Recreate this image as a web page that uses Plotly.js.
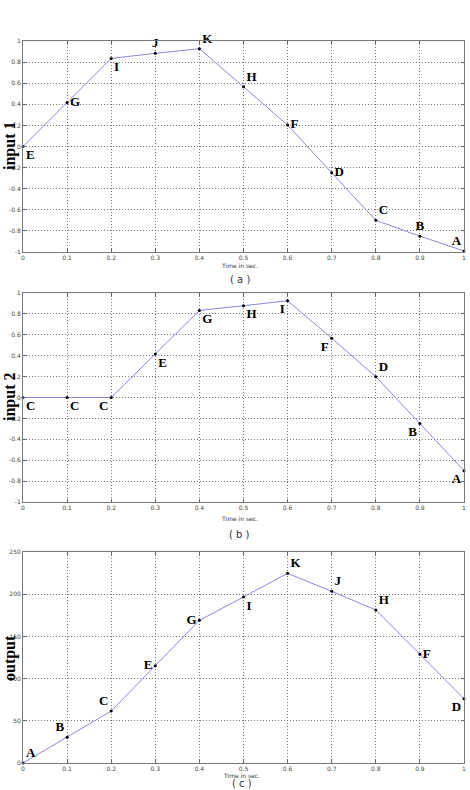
<!DOCTYPE html>
<html>
<head>
<meta charset="utf-8">
<script src="https://cdn.plot.ly/plotly-3.0.1.min.js"></script>
<style>html,body{margin:0;padding:0;background:#fff;}#chart{width:470px;height:790px;}</style>
</head>
<body>
<div id="chart"></div>
<script>
var time = [0, 0.1, 0.2, 0.3, 0.4, 0.5, 0.6, 0.7, 0.8, 0.9, 1.0];

var input1 = [0, 0.418, 0.835, 0.883, 0.927, 0.566, 0.203, -0.25, -0.70, -0.85, -0.99];
var input1Labels = ["E", "G", "I", "J", "K", "H", "F", "D", "C", "B", "A"];

var input2 = [0, 0, 0, 0.417, 0.833, 0.878, 0.926, 0.567, 0.199, -0.25, -0.70];
var input2Labels = ["C", "C", "C", "E", "G", "H", "I", "F", "D", "B", "A"];

var output = [0, 30.4, 61.6, 115.3, 169, 196.7, 224.7, 203.4, 181.3, 128.8, 76.2];
var outputLabels = ["A", "B", "C", "E", "G", "I", "K", "J", "H", "F", "D"];

var xTickVals = [0, 0.1, 0.2, 0.3, 0.4, 0.5, 0.6, 0.7, 0.8, 0.9, 1];
var xTickText = ["0", "0.1", "0.2", "0.3", "0.4", "0.5", "0.6", "0.7", "0.8", "0.9", "1"];
var inTickVals = [-1, -0.8, -0.6, -0.4, -0.2, 0, 0.2, 0.4, 0.6, 0.8, 1];
var inTickText = ["-1", "-0.8", "-0.6", "-0.4", "-0.2", "0", "0.2", "0.4", "0.6", "0.8", "1"];
var outTickVals = [0, 50, 100, 150, 200, 250];
var outTickText = ["0", "50", "100", "150", "200", "250"];

var pos1 = ["bottom right", "middle right", "bottom right", "top center", "top right", "top right", "middle right", "middle right", "top right", "top center", "top left"];
var pos2 = ["bottom right", "bottom right", "bottom left", "bottom right", "bottom right", "bottom right", "bottom left", "bottom left", "top right", "bottom left", "bottom left"];
var pos3 = ["top right", "top left", "top left", "middle left", "middle left", "bottom right", "top right", "top right", "top right", "middle right", "bottom left"];

var lineColor = "#8a8ad8";
var labelFont = {family: "Liberation Serif, DejaVu Serif, serif", size: 13, color: "#000", weight: "bold"};

function mk(y, labels, pos, xa, ya) {
  return {
    x: time, y: y, text: labels, textposition: pos,
    mode: "lines+markers+text", xaxis: xa, yaxis: ya,
    line: {color: lineColor, width: 1},
    marker: {color: "#000", size: 3},
    textfont: labelFont, cliponaxis: false, hoverinfo: "skip", showlegend: false
  };
}

var data = [
  mk(input1, input1Labels, pos1, "x", "y"),
  mk(input2, input2Labels, pos2, "x2", "y2"),
  mk(output, outputLabels, pos3, "x3", "y3")
];

var xd = [23/470, 464/470];
function yd(top, bottom) { return [1 - bottom/790, 1 - top/790]; }

function common() {
  return {
    tickfont: {family: "DejaVu Sans, sans-serif", size: 6, color: "#444"},
    ticks: "inside", ticklen: 3, tickcolor: "#666",
    showgrid: true, gridcolor: "#777", griddash: "1px,2px", gridwidth: 1,
    showline: true, linecolor: "#777", linewidth: 1, mirror: "ticks",
    zeroline: false, fixedrange: true
  };
}
function xax(anchor) {
  var a = common();
  a.domain = xd; a.range = [0, 1]; a.anchor = anchor;
  a.tickvals = xTickVals; a.ticktext = xTickText;
  return a;
}
function yax(anchor, top, bottom, range, tv, tt) {
  var a = common();
  a.domain = yd(top, bottom); a.range = range; a.anchor = anchor;
  a.tickvals = tv; a.ticktext = tt;
  return a;
}

var tinyFont = {family: "DejaVu Sans, sans-serif", size: 6, color: "#333"};
var subFont = {family: "DejaVu Sans, sans-serif", size: 10, color: "#333"};
var yTitleFont = {family: "Liberation Serif, DejaVu Serif, serif", size: 16, color: "#000", weight: "bold"};

function ann(text, xp, yp, font, angle) {
  return {text: text, x: xp/470, y: 1 - yp/790, xref: "paper", yref: "paper",
          showarrow: false, font: font, textangle: angle || 0, xanchor: "center", yanchor: "middle"};
}

var layout = {
  width: 470, height: 790,
  margin: {l: 0, r: 0, t: 0, b: 0},
  paper_bgcolor: "#fff", plot_bgcolor: "#fff",
  xaxis: xax("y"),
  yaxis: yax("x", 41, 252, [-1, 1], inTickVals, inTickText),
  xaxis2: xax("y2"),
  yaxis2: yax("x2", 293, 502, [-1, 1], inTickVals, inTickText),
  xaxis3: xax("y3"),
  yaxis3: yax("x3", 552, 763, [0, 250], outTickVals, outTickText),
  annotations: [
    ann("input 1", 10, 146, yTitleFont, -90),
    ann("input 2", 10, 397, yTitleFont, -90),
    ann("output", 10, 658, yTitleFont, -90),
    ann("Time in sec.", 239, 265, tinyFont),
    ann("Time in sec.", 239, 518, tinyFont),
    ann("Time in sec.", 242, 775, tinyFont),
    ann("( a )", 240, 279, subFont),
    ann("( b )", 240, 534, subFont),
    ann("( c )", 242, 783, subFont)
  ]
};

Plotly.newPlot("chart", data, layout, {displayModeBar: false, staticPlot: true});
</script>
</body>
</html>
